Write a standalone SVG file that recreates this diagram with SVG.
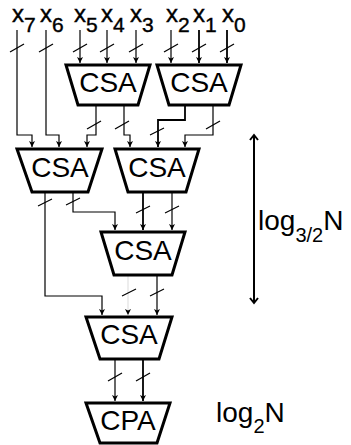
<svg xmlns="http://www.w3.org/2000/svg" width="351" height="445" viewBox="0 0 351 445">
<style>
  .blk{fill:#fff;stroke:#000;stroke-width:3;stroke-linejoin:miter}
  .lbl{font-family:"Liberation Sans",Arial,sans-serif;font-size:28px;fill:#000;text-anchor:middle}
  .in{font-family:"Liberation Sans",Arial,sans-serif;font-size:24px;fill:#000;stroke:#000;stroke-width:0.4}
  .sub{font-size:21px}
  .w{fill:none;stroke:#000;stroke-width:1.2}
  .t{stroke-width:1.8}
  .sl{fill:none;stroke:#000;stroke-width:1.2}
  .side{font-family:"Liberation Sans",Arial,sans-serif;font-size:28px;fill:#000}
</style>
<defs>
  <marker id="ah" viewBox="0 0 8 8" refX="8" refY="4" markerWidth="6" markerHeight="7" markerUnits="userSpaceOnUse" orient="auto">
    <path d="M0,0 L8,4 L0,8 L2,4 z" fill="#000"/>
  </marker>
</defs>
<rect width="351" height="445" fill="#fff"/>

<g id="inputs">
  <text class="in" x="12" y="22">x<tspan class="sub" dy="10">7</tspan></text>
  <text class="in" x="40" y="22">x<tspan class="sub" dy="10">6</tspan></text>
  <text class="in" x="74" y="22">x<tspan class="sub" dy="10">5</tspan></text>
  <text class="in" x="101" y="22">x<tspan class="sub" dy="10">4</tspan></text>
  <text class="in" x="130" y="22">x<tspan class="sub" dy="10">3</tspan></text>
  <text class="in" x="166" y="22">x<tspan class="sub" dy="10">2</tspan></text>
  <text class="in" x="193" y="22">x<tspan class="sub" dy="10">1</tspan></text>
  <text class="in" x="222" y="22">x<tspan class="sub" dy="10">0</tspan></text>
</g>

<g id="connectors">
  <path class="w" d="M17,30 V135 H32 V147" marker-end="url(#ah)"/>
  <path class="w" d="M46,30 V135 H59 V147" marker-end="url(#ah)"/>
  <path class="w" d="M80,30 V63" marker-end="url(#ah)"/>
  <path class="w" d="M107,30 V63" marker-end="url(#ah)"/>
  <path class="w" d="M136,30 V63" marker-end="url(#ah)"/>
  <path class="w" d="M171,30 V63" marker-end="url(#ah)"/>
  <path class="w t" d="M199,30 V63" marker-end="url(#ah)"/>
  <path class="w t" d="M227,30 V63" marker-end="url(#ah)"/>

  <path class="w" d="M96,106 V135 H87 V147" marker-end="url(#ah)"/>
  <path class="w" d="M124,106 V135 H130 V147" marker-end="url(#ah)"/>
  <path class="w t" d="M185,106 V120 H158 V147" marker-end="url(#ah)"/>
  <path class="w" d="M213,106 V135 H185 V147" marker-end="url(#ah)"/>

  <path class="w" d="M45,193 V296 H102 V315" marker-end="url(#ah)"/>
  <path class="w" d="M73,193 V212 H115 V230" marker-end="url(#ah)"/>
  <path class="w t" d="M143,193 V230" marker-end="url(#ah)"/>
  <path class="w" d="M172,193 V230" marker-end="url(#ah)"/>

  <path class="w" d="M128,276 V315" stroke-opacity="0.12" marker-end="url(#ah)"/>
  <path class="w" d="M157,276 V315" marker-end="url(#ah)"/>

  <path class="w" d="M115,360 V401" marker-end="url(#ah)"/>
  <path class="w t" d="M143,360 V401" marker-end="url(#ah)"/>

  <g id="slashes">
    <path class="sl" d="M10,52 L24,44"/>
    <path class="sl" d="M39,52 L53,44"/>
    <path class="sl" d="M73,52 L87,44"/>
    <path class="sl" d="M100,52 L114,44"/>
    <path class="sl" d="M129,52 L143,44"/>
    <path class="sl" d="M164,52 L178,44"/>
    <path class="sl" d="M192,52 L206,44"/>
    <path class="sl" d="M220,52 L234,44"/>
    <path class="sl" d="M87,129 L101,121"/>
    <path class="sl" d="M115,129 L129,121"/>
    <path class="sl" d="M150,135 L164,128"/>
    <path class="sl" d="M206,129 L220,121"/>
    <path class="sl" d="M38,206 L52,199"/>
    <path class="sl" d="M66,205 L80,198"/>
    <path class="sl" d="M136,213 L150,206"/>
    <path class="sl" d="M165,213 L179,206"/>
    <path class="sl" d="M122,296 L136,289"/>
    <path class="sl" d="M150,296 L164,289"/>
    <path class="sl" d="M108,381 L122,373"/>
    <path class="sl" d="M136,381 L150,373"/>
  </g>

  <g id="depth-arrow">
    <path d="M254,136 V302" fill="none" stroke="#000" stroke-width="2"/>
    <path d="M250,140 L254,135 L258,140" fill="none" stroke="#000" stroke-width="2"/>
    <path d="M250,298 L254,303 L258,298" fill="none" stroke="#000" stroke-width="2"/>
  </g>
</g>

<g id="csa1">
  <path class="blk" d="M66,65 H150 L138,105 H78 Z"/>
  <text class="lbl" x="108" y="92">CSA</text>
</g>
<g id="csa2">
  <path class="blk" d="M157,65 H241 L229,105 H169 Z"/>
  <text class="lbl" x="199" y="92">CSA</text>
</g>
<g id="csa3">
  <path class="blk" d="M17,149 H102 L88,192 H32 Z"/>
  <text class="lbl" x="60" y="177">CSA</text>
</g>
<g id="csa4">
  <path class="blk" d="M115,149 H199 L186,192 H128 Z"/>
  <text class="lbl" x="157" y="177">CSA</text>
</g>
<g id="csa5">
  <path class="blk" d="M101,232 H185 L172,275 H114 Z"/>
  <text class="lbl" x="143" y="260">CSA</text>
</g>
<g id="csa6">
  <path class="blk" d="M86,317 H172 L159,359 H100 Z"/>
  <text class="lbl" x="129" y="344">CSA</text>
</g>
<g id="cpa">
  <path class="blk" d="M86,403 H170 L157,443 H100 Z"/>
  <text class="lbl" x="128" y="430">CPA</text>
</g>

<g id="labels">
  <text class="side" x="258" y="230">log<tspan font-size="20" dy="12">3/2</tspan><tspan dy="-12">N</tspan></text>
  <text class="side" x="216" y="422">log<tspan font-size="20" dy="11">2</tspan><tspan dy="-11">N</tspan></text>
</g>
</svg>
